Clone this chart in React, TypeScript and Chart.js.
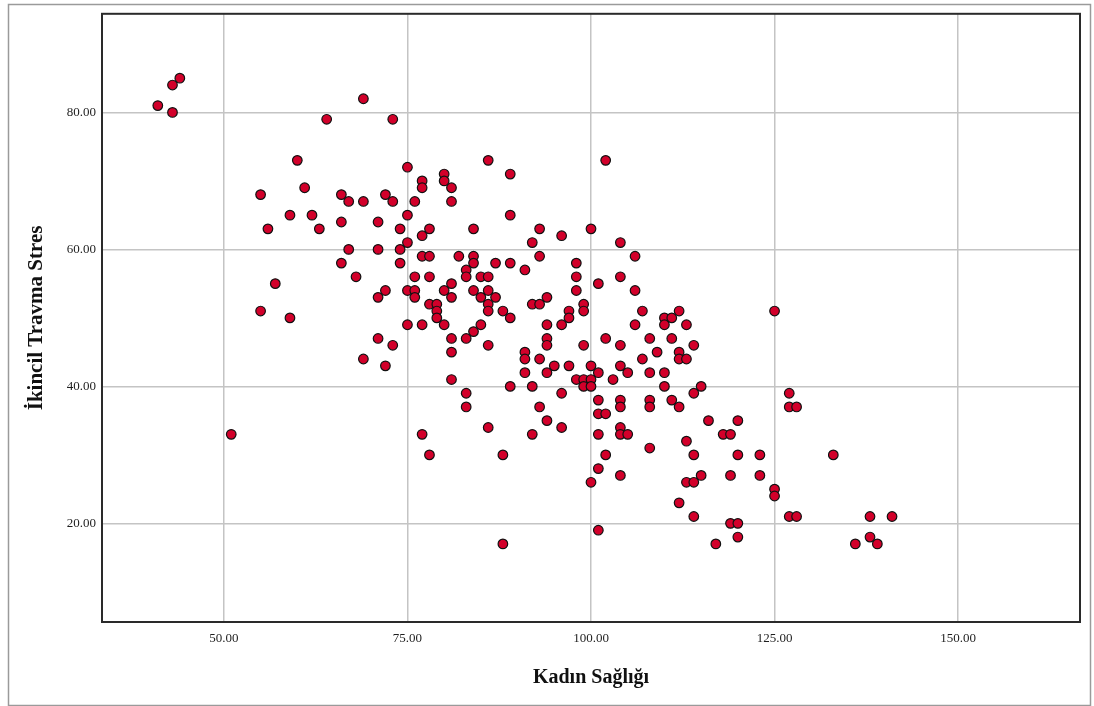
import React, { useEffect, useRef } from "react";
import { Chart, registerables } from "chart.js";

Chart.register(...registerables);

// Kadın Sağlığı (x) values
const kadinSagligi: number[] = [
  44, 43, 41, 43, 69, 64, 73, 60, 75, 77, 77, 55, 61, 66, 67, 69, 72, 73, 76, 59,
  62, 66, 71, 74, 78, 77, 75, 56, 63, 67, 71, 74, 75, 77, 78, 66, 74, 68, 76, 78,
  57, 72, 71, 75, 76, 76, 78, 79, 79, 55, 59, 75, 77, 79, 71, 73, 69, 72, 51, 77,
  78,
  86, 102, 80, 80, 81, 81, 89, 89, 84, 93, 96, 100, 92, 104, 82, 84, 84, 87, 89, 91,
  93, 98, 106, 83, 83, 85, 86, 98, 101, 104, 80, 81, 84, 86, 81, 85, 87, 86, 86, 98,
  106, 80, 88, 89, 92, 93, 94, 97, 97, 99, 99, 96, 94, 85, 84, 83, 81, 81, 86, 81,
  107, 106, 110, 110, 111, 112, 113, 102, 104, 108, 111, 114, 109, 112, 112, 113, 107, 94, 94, 99,
  91, 91, 93, 91, 94, 95, 97, 100, 101, 98, 99, 100, 99, 100, 103, 104, 105, 108, 110, 110,
  89, 92, 83, 96, 115, 114,
  83, 93, 101, 104, 104, 108, 108, 111, 112, 94, 86, 96, 92, 101, 102, 101, 104, 104, 105, 116,
  120, 118, 119, 113, 108, 88, 102, 114, 120, 123, 101, 104, 115, 119, 123, 113, 114, 100, 112, 114,
  119, 120, 120, 101, 88, 117,
  125, 127, 127, 128, 133, 125, 125, 127, 128, 138, 141, 138, 136, 139,
];

// İkincil Travma Stres (y) values
const ikincilTravmaStres: number[] = [
  85, 84, 81, 80, 82, 79, 79, 73, 72, 70, 69, 68, 69, 68, 67, 67, 68, 67, 67, 65,
  65, 64, 64, 63, 63, 62, 65, 63, 63, 60, 60, 60, 61, 59, 59, 58, 58, 56, 56, 56,
  55, 54, 53, 54, 54, 53, 52, 52, 51, 51, 50, 49, 49, 50, 47, 46, 44, 43, 33, 33,
  30,
  73, 73, 71, 70, 69, 67, 71, 65, 63, 63, 62, 63, 61, 61, 59, 59, 58, 58, 58, 57,
  59, 58, 59, 57, 56, 56, 56, 56, 55, 56, 54, 55, 54, 54, 53, 53, 53, 52, 51, 54,
  54, 49, 51, 50, 52, 52, 53, 51, 50, 52, 51, 49, 49, 49, 48, 47, 47, 45, 46, 41,
  51, 49, 50, 49, 50, 51, 49, 47, 46, 47, 47, 46, 45, 45, 44, 44, 44, 47, 46, 46,
  45, 44, 44, 42, 42, 43, 43, 43, 42, 41, 41, 41, 40, 40, 41, 43, 42, 42, 42, 40,
  40, 40, 39, 39, 40, 39,
  37, 37, 38, 38, 37, 38, 37, 38, 37, 35, 34, 34, 33, 36, 36, 33, 34, 33, 33, 35,
  35, 33, 33, 32, 31, 30, 30, 30, 30, 30, 28, 27, 27, 27, 27, 26, 26, 26, 23, 21,
  20, 20, 18, 19, 17, 17,
  51, 39, 37, 37, 30, 25, 24, 21, 21, 21, 21, 18, 17, 17,
];

const xTicks: number[] = [50, 75, 100, 125, 150];
const yTicks: number[] = [20, 40, 60, 80];

const xTitle = "Kadın Sağlığı";
const yTitle = "İkincil Travma Stres";

const W = 1094;
const H = 706;

export default function App() {
  const ref = useRef<HTMLCanvasElement | null>(null);

  useEffect(() => {
    const canvas = ref.current;
    if (!canvas) return;
    const points = kadinSagligi.map((x, i) => ({ x, y: ikincilTravmaStres[i] }));

    const framePlugin = {
      id: "framePlugin",
      beforeDraw(chart: any) {
        const ctx = chart.ctx;
        ctx.save();
        ctx.fillStyle = "#ffffff";
        ctx.fillRect(0, 0, W, H);
        ctx.strokeStyle = "#9a9a9a";
        ctx.lineWidth = 1.5;
        ctx.strokeRect(8.5, 4.5, 1082, 701);
        ctx.restore();
      },
      afterDraw(chart: any) {
        const { left, top, right, bottom } = chart.chartArea;
        const ctx = chart.ctx;
        ctx.save();
        ctx.strokeStyle = "#2a2a2a";
        ctx.lineWidth = 2;
        ctx.strokeRect(left, top, right - left, bottom - top);
        ctx.restore();
      },
    };

    const chart = new Chart(canvas, {
      type: "scatter",
      data: {
        datasets: [
          {
            data: points,
            backgroundColor: "#d2002a",
            borderColor: "#111111",
            borderWidth: 1.2,
            pointRadius: 4.8,
            pointHoverRadius: 4.8,
          },
        ],
      },
      options: {
        responsive: false,
        animation: false,
        layout: { padding: { left: 0, top: 11, right: 14, bottom: 0 } },
        plugins: {
          legend: { display: false },
          tooltip: { enabled: false },
        },
        scales: {
          x: {
            type: "linear",
            min: 33.4,
            max: 166.6,
            afterBuildTicks: (scale: any) => {
              scale.ticks = xTicks.map((v) => ({ value: v }));
            },
            afterFit: (scale: any) => {
              scale.height = 84;
            },
            border: { display: false },
            grid: { color: "#c4c4c4", lineWidth: 1.5, drawTicks: false },
            ticks: {
              padding: 9,
              color: "#1e1e1e",
              font: { family: "'Liberation Serif', 'Times New Roman', serif", size: 13 },
              callback: (v: any) => Number(v).toFixed(2),
            },
            title: {
              display: true,
              text: xTitle,
              color: "#111",
              font: { family: "'Liberation Serif', 'Times New Roman', serif", size: 20, weight: "bold" },
              padding: { top: 0, bottom: 16 },
            },
          },
          y: {
            type: "linear",
            min: 5.6,
            max: 94.4,
            afterBuildTicks: (scale: any) => {
              scale.ticks = yTicks.map((v) => ({ value: v }));
            },
            afterFit: (scale: any) => {
              scale.width = 102;
            },
            border: { display: false },
            grid: { color: "#c4c4c4", lineWidth: 1.5, drawTicks: false },
            ticks: {
              padding: 6,
              color: "#1e1e1e",
              font: { family: "'Liberation Serif', 'Times New Roman', serif", size: 13 },
              callback: (v: any) => Number(v).toFixed(2),
            },
            title: {
              display: true,
              text: yTitle,
              color: "#111",
              font: { family: "'Liberation Serif', 'Times New Roman', serif", size: 21, weight: "bold" },
              padding: { top: 24, bottom: 0 },
            },
          },
        },
      },
      plugins: [framePlugin],
    });

    return () => {
      chart.destroy();
    };
  }, []);

  return (
    <div
      style={{
        position: "fixed",
        left: 0,
        top: 0,
        width: W,
        height: H,
        background: "#fff",
      }}
    >
      <canvas ref={ref} width={W} height={H} style={{ width: W, height: H, display: "block" }} />
    </div>
  );
}
